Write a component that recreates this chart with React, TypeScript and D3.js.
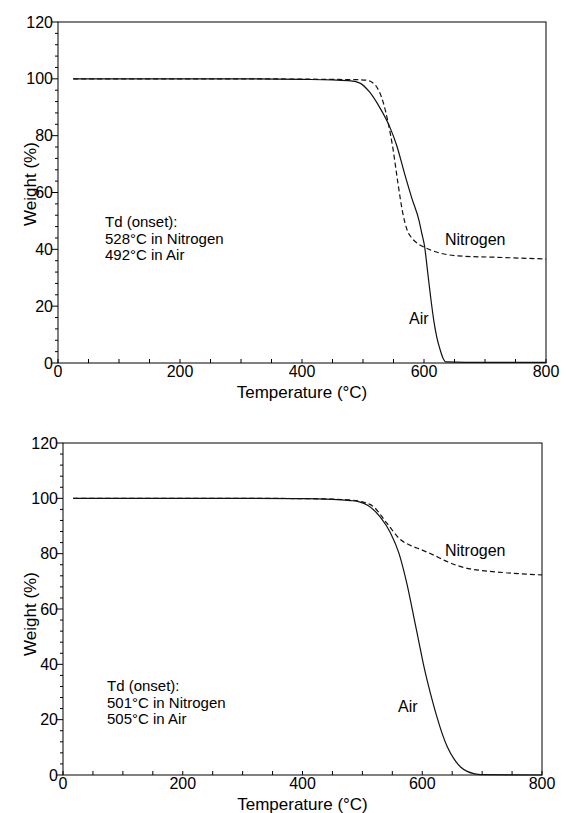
import * as d3 from "d3";

// top panel (Td 528 / 492)
const topAirT = [25, 100, 200, 300, 400, 450, 480, 495, 511, 528, 544, 555, 569, 580, 592, 596, 601, 606, 611, 616, 621, 626, 631, 636, 700, 800];
const topAirW = [100, 100, 100, 100, 99.8, 99.6, 99.3, 98.5, 95.3, 89.7, 83, 76.7, 66, 58, 50, 46, 41, 32, 23, 15, 9, 5, 1.8, 0.4, 0.2, 0.2];
const topN2T = [25, 100, 200, 300, 400, 450, 490, 506, 520, 533, 541, 549, 557, 565, 572, 580, 590, 600, 626, 656, 720, 800];
const topN2W = [100, 100, 100, 100, 99.9, 99.8, 99.7, 99.5, 97.8, 91.8, 84.8, 75.6, 63.7, 53, 47, 44, 42, 40.8, 38.7, 37.7, 37.2, 36.6];

// bottom panel (Td 501 / 505)
const botAirT = [17, 100, 200, 300, 400, 450, 480, 495, 508, 530, 547, 561, 575, 586, 594, 602, 609, 618, 626, 634, 642, 653, 664, 675, 686, 698, 800];
const botAirW = [100, 100, 100, 100, 99.9, 99.6, 99.2, 98.7, 97.6, 93.2, 87.5, 80.2, 68.5, 57, 48.5, 40, 33.5, 26, 19.9, 14.5, 10.1, 5.8, 2.9, 1.3, 0.5, 0.1, 0];
const botN2T = [17, 100, 200, 300, 400, 450, 480, 500, 519, 541, 564, 580, 600, 620, 640, 660, 680, 700, 740, 800];
const botN2W = [100, 100, 100, 100, 99.9, 99.7, 99.4, 98.7, 96.9, 91, 85, 83, 81.3, 79.4, 77.3, 75.6, 74.5, 73.9, 73.1, 72.3];

const xTicks = [0, 200, 400, 600, 800];
const yTicks = [0, 20, 40, 60, 80, 100, 120];
const topNotes = ["Td (onset):", "528°C in Nitrogen", "492°C in Air"];
const botNotes = ["Td (onset):", "501°C in Nitrogen", "505°C in Air"];

const font = "Arial, 'Liberation Sans', sans-serif";

type PanelProps = {
  left: number; right: number; top: number; bottom: number;
  airT: number[]; airW: number[]; n2T: number[]; n2W: number[];
  notes: string[]; noteX: number; noteY: number; yTitleY: number;
  n2Label: [number, number]; airLabel: [number, number];
};

const Panel = (p: PanelProps) => {
  const x = d3.scaleLinear().domain([0, 800]).range([p.left, p.right]);
  const y = d3.scaleLinear().domain([0, 120]).range([p.bottom, p.top]);
  const line = d3
    .line<[number, number]>()
    .x((d) => x(d[0]))
    .y((d) => y(d[1]))
    .curve(d3.curveMonotoneX);
  const air = line(p.airT.map((t, i) => [t, p.airW[i]]) as [number, number][]);
  const n2 = line(p.n2T.map((t, i) => [t, p.n2W[i]]) as [number, number][]);
  const xMinor = d3.range(0, 801, 50);
  const yMinor = d3.range(0, 121, 4);
  return (
    <g fontFamily={font} fill="#000">
      <rect x={p.left} y={p.top} width={p.right - p.left} height={p.bottom - p.top} fill="none" stroke="#000" strokeWidth={1} />
      {xMinor.map((t) => (
        <line key={"xm" + t} x1={x(t)} x2={x(t)} y1={p.bottom} y2={p.bottom - 4} stroke="#000" />
      ))}
      {yMinor.map((v) => (
        <line key={"ym" + v} x1={p.left} x2={p.left - (v % 20 === 0 ? 6 : 3)} y1={y(v)} y2={y(v)} stroke="#000" />
      ))}
      {xTicks.map((t) => (
        <text key={"xt" + t} x={x(t)} y={p.bottom + 13.5} textAnchor="middle" fontSize={16}>{t}</text>
      ))}
      {yTicks.map((v) => (
        <text key={"yt" + v} x={p.left - 5} y={y(v)} dy="0.35em" textAnchor="end" fontSize={16}>{v}</text>
      ))}
      <text x={(p.left + p.right) / 2} y={p.bottom + 35} textAnchor="middle" fontSize={17}>Temperature (°C)</text>
      <text transform={`translate(36,${p.yTitleY}) rotate(-90)`} textAnchor="middle" fontSize={17}>Weight (%)</text>
      <path d={n2 ?? ""} fill="none" stroke="#111" strokeWidth={1.2} strokeDasharray="5,3" />
      <path d={air ?? ""} fill="none" stroke="#111" strokeWidth={1.2} />
      {p.notes.map((s, i) => (
        <text key={s} x={p.noteX} y={p.noteY + i * 16.5} fontSize={15}>{s}</text>
      ))}
      <text x={p.n2Label[0]} y={p.n2Label[1]} fontSize={16}>Nitrogen</text>
      <text x={p.airLabel[0]} y={p.airLabel[1]} fontSize={16}>Air</text>
    </g>
  );
};

export default function App() {
  return (
    <svg width={567} height={813} style={{ position: "absolute", left: 0, top: 0, background: "#fff" }}>
      <rect width={567} height={813} fill="#fff" />
      <Panel left={58} right={546} top={22} bottom={363}
        airT={topAirT} airW={topAirW} n2T={topN2T} n2W={topN2W}
        notes={topNotes} noteX={105} noteY={227} yTitleY={184} n2Label={[445, 245]} airLabel={[409, 324]} />
      <Panel left={63} right={542} top={443} bottom={775}
        airT={botAirT} airW={botAirW} n2T={botN2T} n2W={botN2W}
        notes={botNotes} noteX={107} noteY={691} yTitleY={614} n2Label={[445, 556]} airLabel={[398, 712]} />
    </svg>
  );
}
